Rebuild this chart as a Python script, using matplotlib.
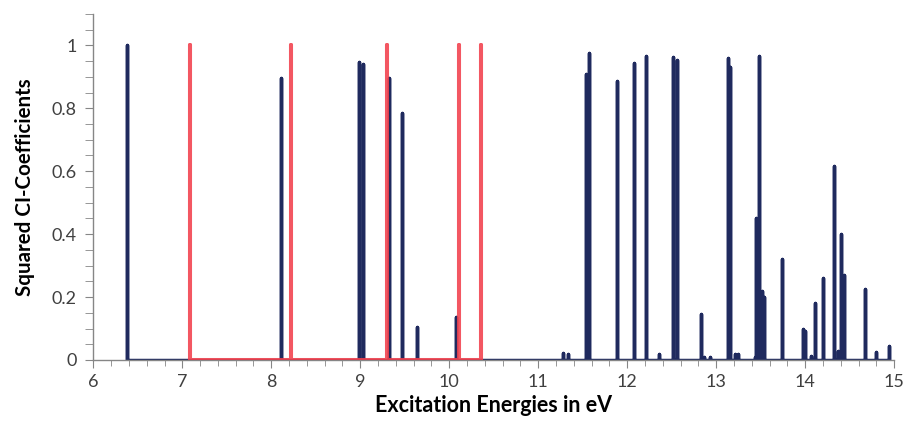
import numpy as np
import matplotlib.pyplot as plt
from matplotlib.ticker import MultipleLocator

# CI excitation energies (eV) and squared coefficients
navy_e = [6.375, 8.11, 8.98, 9.03, 9.32, 9.47, 9.635, 10.07,
          11.28, 11.33, 11.54, 11.565, 11.88, 12.08, 12.21, 12.36,
          12.51, 12.555, 12.83, 12.86, 12.93, 13.13, 13.16, 13.21, 13.25,
          13.44, 13.445, 13.475, 13.51, 13.535, 13.74, 13.97, 14.0,
          14.07, 14.11, 14.195, 14.32, 14.37, 14.40, 14.44, 14.67,
          14.79, 14.94]
navy_h = [1.0, 0.895, 0.946, 0.94, 0.895, 0.786, 0.104, 0.135,
          0.023, 0.02, 0.91, 0.976, 0.886, 0.945, 0.966, 0.019,
          0.963, 0.955, 0.145, 0.01, 0.01, 0.96, 0.93, 0.02, 0.018,
          0.01, 0.45, 0.966, 0.219, 0.2, 0.32, 0.10, 0.092,
          0.013, 0.18, 0.262, 0.616, 0.03, 0.40, 0.27, 0.224,
          0.025, 0.044]

red_e = [7.087, 8.225, 9.30, 10.105, 10.356]
red_h = [1.0, 1.0, 1.0, 1.0, 1.0]


def sticks(e, h):
    # each line goes 0 -> h -> 0 at the same energy
    x = np.repeat(e, 3)
    y = np.column_stack([np.zeros(len(h)), h, np.zeros(len(h))]).ravel()
    return x, y


fig = plt.figure(figsize=(9.06, 4.22), dpi=100)
ax = fig.add_axes([0.103, 0.147, 0.884, 0.82])

nx, ny = sticks(navy_e, navy_h)
rx, ry = sticks(red_e, red_h)
ax.plot(nx, ny, color='#1f2a5e', lw=2.5, solid_joinstyle='round',
        solid_capstyle='round', zorder=2)
ax.plot(rx, ry, color='#f2404c', lw=2.9, alpha=0.88, solid_joinstyle='round',
        solid_capstyle='round', zorder=3)

ax.set_xlim(6, 15)
ax.set_ylim(0, 1.1)
ax.xaxis.set_major_locator(MultipleLocator(1))
ax.xaxis.set_minor_locator(MultipleLocator(0.2))
ax.yaxis.set_major_locator(MultipleLocator(0.2))
ax.yaxis.set_minor_locator(MultipleLocator(0.05))
ax.yaxis.set_major_formatter(plt.FuncFormatter(lambda v, p: '%g' % round(v, 2)))

for s in ['top', 'right']:
    ax.spines[s].set_visible(False)
for s in ['left', 'bottom']:
    ax.spines[s].set_color('#868686')
    ax.spines[s].set_linewidth(1.0)

ax.tick_params(axis='both', which='both', direction='out', color='#868686',
               labelcolor='#404040', labelsize=13)
ax.tick_params(axis='x', which='major', length=6, pad=4)
ax.tick_params(axis='x', which='minor', length=4)
ax.tick_params(axis='y', which='both', length=6, pad=6)
for lab in ax.get_xticklabels() + ax.get_yticklabels():
    lab.set_family('Lato')

ax.set_xlabel('Excitation Energies in eV', family='Lato', fontweight='bold',
              fontsize=15.5, color='#000000', labelpad=4)
ax.set_ylabel('Squared CI-Coefficients', family='Lato', fontweight='bold',
              fontsize=14.8, color='#000000', labelpad=12)

fig.savefig('out.png', dpi=100)
